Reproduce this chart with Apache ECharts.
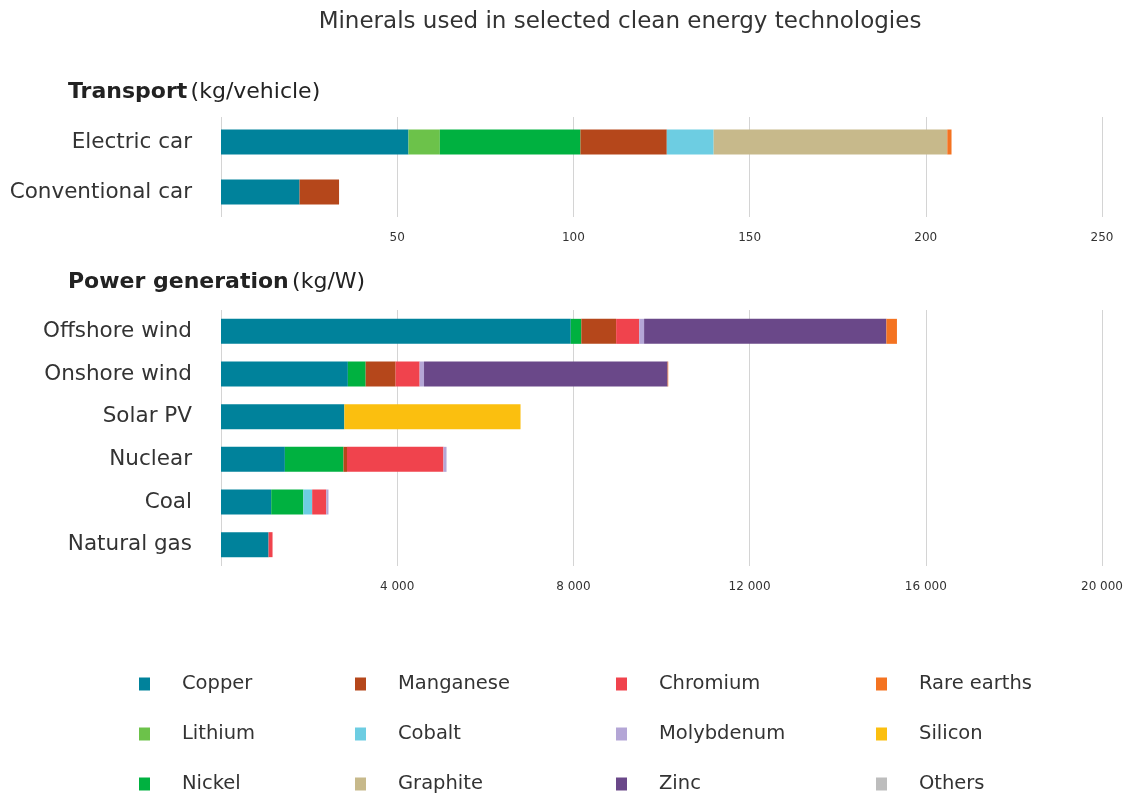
<!DOCTYPE html>
<html>
<head>
<meta charset="utf-8">
<script src="https://cdn.jsdelivr.net/npm/echarts@6/dist/echarts.min.js"></script>
<style>html,body{margin:0;padding:0;background:#fff}#c{width:1130px;height:793px}</style>
</head>
<body>
<div id="c"></div>
<script>
const transportCats = ['Electric car', 'Conventional car'];
const powerCats = ['Offshore wind', 'Onshore wind', 'Solar PV', 'Nuclear', 'Coal', 'Natural gas'];
const minerals = ['Copper', 'Lithium', 'Nickel', 'Manganese', 'Cobalt', 'Graphite', 'Chromium', 'Molybdenum', 'Zinc', 'Rare earths', 'Silicon', 'Others'];
const mineralColors = ['#00829b', '#6cc24a', '#00b140', '#b5471b', '#6dcde2', '#c7b98b', '#f0434d', '#b4a6d6', '#6a4889', '#f47321', '#fbbf0f', '#bdbdbd'];
// kg/vehicle: [Electric car, Conventional car]
const transportValues = {
  'Copper': [53.2, 22.3],
  'Lithium': [8.9, 0],
  'Nickel': [39.9, 0],
  'Manganese': [24.5, 11.2],
  'Cobalt': [13.3, 0],
  'Graphite': [66.3, 0],
  'Chromium': [0, 0],
  'Molybdenum': [0, 0],
  'Zinc': [0, 0],
  'Rare earths': [1.2, 0],
  'Silicon': [0, 0],
  'Others': [0, 0]
};
// [Offshore wind, Onshore wind, Solar PV, Nuclear, Coal, Natural gas]
const powerValues = {
  'Copper': [7940, 2880, 2800, 1450, 1140, 1080],
  'Lithium': [0, 0, 0, 0, 0, 0],
  'Nickel': [240, 404, 0, 1330, 730, 0],
  'Manganese': [790, 680, 0, 80, 0, 0],
  'Cobalt': [0, 0, 0, 0, 200, 0],
  'Graphite': [0, 0, 0, 0, 0, 0],
  'Chromium': [525, 545, 0, 2190, 320, 90],
  'Molybdenum': [110, 100, 0, 70, 50, 0],
  'Zinc': [5500, 5530, 0, 0, 0, 0],
  'Rare earths': [240, 14, 0, 0, 0, 0],
  'Silicon': [0, 0, 4000, 0, 0, 0],
  'Others': [0, 0, 0, 0, 0, 0]
};
const transportTicks = {min: 0, max: 250, interval: 50};
const powerTicks = {min: 0, max: 20000, interval: 4000};
const legendColumns = [
  ['Copper', 'Lithium', 'Nickel'],
  ['Manganese', 'Cobalt', 'Graphite'],
  ['Chromium', 'Molybdenum', 'Zinc'],
  ['Rare earths', 'Silicon', 'Others']
];

const FONT = 'DejaVu Sans';
const TXT = '#333333';
const chart = echarts.init(document.getElementById('c'));

function fmt(v) {
  if (v === 0) return '';
  return String(v).replace(/\B(?=(\d{3})+(?!\d))/g, ' ');
}

const series = [];
minerals.forEach((m, i) => {
  series.push({
    name: m, type: 'bar', stack: 'transport', xAxisIndex: 0, yAxisIndex: 0,
    barWidth: 25, itemStyle: {color: mineralColors[i]},
    data: transportValues[m]
  });
  series.push({
    name: m, type: 'bar', stack: 'power', xAxisIndex: 1, yAxisIndex: 1,
    barWidth: 25, itemStyle: {color: mineralColors[i]},
    data: powerValues[m]
  });
});

const legendLefts = [139, 355, 616, 876];
const legends = legendColumns.map((col, i) => ({
  orient: 'vertical', left: legendLefts[i], top: 674, height: 200, width: 250, padding: 0,
  itemWidth: 11, itemHeight: 13, itemGap: 30, icon: 'rect',
  selectedMode: false,
  data: col,
  textStyle: {fontFamily: FONT, fontSize: 19.5, color: TXT, padding: [0, 0, 0, 27]}
}));

function xAx(idx, ticks) {
  return {
    type: 'value', gridIndex: idx, min: ticks.min, max: ticks.max, interval: ticks.interval,
    axisLine: {show: false}, axisTick: {show: false},
    splitLine: {show: true, lineStyle: {color: '#d4d4d4', width: 1}},
    axisLabel: {fontFamily: FONT, fontSize: 12, color: TXT, margin: 15, formatter: fmt}
  };
}
function yAx(idx, cats) {
  return {
    type: 'category', gridIndex: idx, data: cats, inverse: true,
    axisLine: {show: false}, axisTick: {show: false},
    axisLabel: {fontFamily: FONT, fontSize: 21.5, color: TXT, margin: 29}
  };
}

chart.setOption({
  animation: false,
  textStyle: {fontFamily: FONT},
  graphic: [
    {type: 'text', x: 620, y: 22, style: {text: 'Minerals used in selected clean energy technologies', fontFamily: FONT, fontSize: 23, fill: TXT, align: 'center', verticalAlign: 'middle'}},
    {type: 'text', x: 68, y: 92, style: {
      text: '{b|Transport} {n|(kg/vehicle)}', verticalAlign: 'middle',
      rich: {b: {fontFamily: FONT, fontSize: 22, fontWeight: 'bold', fill: '#222'}, n: {fontFamily: FONT, fontSize: 22, fill: '#222'}}
    }},
    {type: 'text', x: 68, y: 282, style: {
      text: '{b|Power generation} {n|(kg/W)}', verticalAlign: 'middle',
      rich: {b: {fontFamily: FONT, fontSize: 22, fontWeight: 'bold', fill: '#222'}, n: {fontFamily: FONT, fontSize: 22, fill: '#222'}}
    }}
  ],
  legend: legends,
  grid: [
    {left: 221, right: 28, top: 117, height: 100},
    {left: 221, right: 28, top: 310, height: 256}
  ],
  xAxis: [xAx(0, transportTicks), xAx(1, powerTicks)],
  yAxis: [yAx(0, transportCats), yAx(1, powerCats)],
  series: series
});
</script>
</body>
</html>
